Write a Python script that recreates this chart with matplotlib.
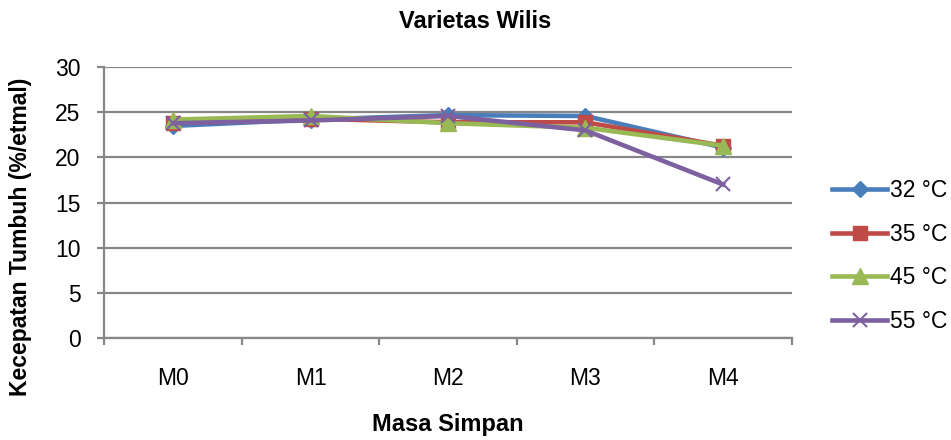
import matplotlib.pyplot as plt
import numpy as np

plt.rcParams['font.family'] = ['Liberation Sans', 'DejaVu Sans']

categories = ['M0', 'M1', 'M2', 'M3', 'M4']
s32 = [23.5, 24.2, 24.7, 24.6, 21.1]
s35 = [23.8, 24.3, 23.9, 23.9, 21.3]
s45 = [24.2, 24.6, 23.8, 23.3, 21.3]
s55 = [23.8, 24.1, 24.6, 23.0, 17.0]

fig = plt.figure(figsize=(9.51, 4.40), dpi=100, facecolor='white')
ax = fig.add_axes([0.1097, 0.2325, 0.7228, 0.6145])

x = np.arange(len(categories))
ax.plot(x, s32, label='32 °C', color='#4A7EBB', linewidth=3.3, marker='D', markersize=8)
ax.plot(x, s35, label='35 °C', color='#BE4B48', linewidth=3.3, marker='s', markersize=10.5)
ax.plot(x, s45, label='45 °C', color='#98B954', linewidth=3.3, marker='^', markersize=11)
ax.plot(x, s55, label='55 °C', color='#7D60A0', linewidth=3.3, marker='x', markersize=9.5,
        markeredgewidth=1.5)

grid_c = '#878787'
ax.set_ylim(0, 30)
ax.set_yticks(np.arange(0, 31, 5))
ax.yaxis.grid(True, color=grid_c, linewidth=1.6)
ax.set_axisbelow(True)
ax.set_xlim(-0.5, len(categories) - 0.5)
ax.set_xticks(x)
ax.set_xticklabels(categories)
ax.set_xticks(np.arange(-0.5, len(categories), 1), minor=True)
ax.tick_params(axis='x', which='major', length=0, pad=21, labelsize=16.5)
ax.tick_params(axis='x', which='minor', length=5, width=1.6, color=grid_c, direction='out')
ax.tick_params(axis='y', length=5, width=1.6, color=grid_c, labelsize=16.5, pad=12)

for side in ['top', 'right']:
    ax.spines[side].set_visible(False)
ax.spines['left'].set_color(grid_c)
ax.spines['left'].set_linewidth(1.6)
ax.spines['bottom'].set_color(grid_c)
ax.spines['bottom'].set_linewidth(1.6)

fig.text(0.5, 1 - 21 / 440, 'Varietas Wilis', fontsize=17, fontweight='bold',
         ha='center', va='center')
ax.set_xlabel('Masa Simpan', fontsize=17, fontweight='bold', labelpad=17)
fig.text(21 / 951, 1 - 237 / 440, 'Kecepatan Tumbuh (%/etmal)', fontsize=16.5,
         fontweight='bold', rotation=90, ha='center', va='center')

ax.legend(loc='upper left', bbox_to_anchor=(832 / 951, 1 - 179 / 440),
          bbox_transform=fig.transFigure, frameon=False, fontsize=16.5,
          handlelength=2.4, labelspacing=0.9, handletextpad=0.15,
          borderpad=0, borderaxespad=0)

fig.savefig('out.png', dpi=100)
